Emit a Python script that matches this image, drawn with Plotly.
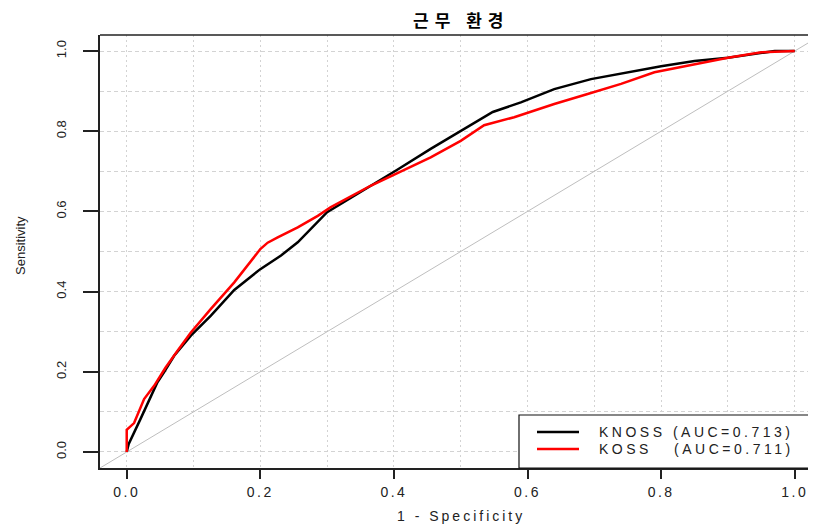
import plotly.graph_objects as go

# ---- data ----
knoss_fpr = [0.0, 0.003, 0.02, 0.036, 0.046, 0.056, 0.071, 0.096, 0.126, 0.161, 0.2, 0.231,
             0.256, 0.30, 0.335, 0.365, 0.405, 0.455, 0.5, 0.548, 0.59, 0.64, 0.695, 0.75,
             0.80, 0.85, 0.90, 0.97, 1.0]
knoss_tpr = [0.0, 0.02, 0.08, 0.14, 0.174, 0.199, 0.24, 0.29, 0.34, 0.404, 0.456, 0.49,
             0.523, 0.598, 0.633, 0.663, 0.704, 0.756, 0.80, 0.848, 0.872, 0.905, 0.93, 0.947,
             0.962, 0.975, 0.983, 1.0, 1.0]
koss_fpr = [0.0, 0.0, 0.011, 0.026, 0.041, 0.058, 0.075, 0.096, 0.126, 0.161, 0.2, 0.211,
            0.226, 0.256, 0.286, 0.305, 0.365, 0.405, 0.455, 0.5, 0.535, 0.58, 0.62, 0.64,
            0.69, 0.74, 0.79, 0.84, 0.90, 0.95, 0.99, 1.0]
koss_tpr = [0.0, 0.055, 0.072, 0.132, 0.165, 0.21, 0.25, 0.298, 0.357, 0.423, 0.506, 0.522,
            0.535, 0.560, 0.589, 0.61, 0.664, 0.696, 0.735, 0.776, 0.815, 0.835, 0.857, 0.868,
            0.893, 0.918, 0.947, 0.963, 0.983, 0.997, 1.0, 1.0]
series_names = ["KNOSS (AUC=0.713)", "KOSS\u00a0\u00a0\u00a0(AUC=0.711)"]
series_colors = ["#000000", "#FF0000"]
diag = [-0.04, 1.04]
tick_vals = [0.0, 0.2, 0.4, 0.6, 0.8, 1.0]
tick_text = ["0.0", "0.2", "0.4", "0.6", "0.8", "1.0"]
title_text = "근무 환경"
x_title = "1 - Specificity"
y_title = "Sensitivity"

# page body has an 8px margin: draw the figure 8px smaller and shift everything
OFF = 8
W, H = 816 - OFF, 528 - OFF
L, T, B = 100 - OFF, 35 - OFF, 60
pw, ph = W - L, H - T - B


def px_x(p):
    return (p - OFF - L) / pw


def px_y(p):
    return (H - B - (p - OFF)) / ph


def spaced(s, ls):
    return '<span style="letter-spacing:%spx">%s</span>' % (ls, s)


fig = go.Figure()
fig.add_trace(go.Scatter(x=diag, y=diag, mode="lines",
                         line=dict(color="#BEBEBE", width=1), hoverinfo="skip", showlegend=False))
fig.add_trace(go.Scatter(x=knoss_fpr, y=knoss_tpr, mode="lines", name=series_names[0],
                         line=dict(color=series_colors[0], width=2.5), showlegend=False))
fig.add_trace(go.Scatter(x=koss_fpr, y=koss_tpr, mode="lines", name=series_names[1],
                         line=dict(color=series_colors[1], width=2.5), showlegend=False))

axis_common = dict(
    showline=True, linecolor="#222222", linewidth=1.5, zeroline=False,
    ticks="outside", tickcolor="#222222", tickwidth=1.5,
    showgrid=True, gridcolor="#D3D3D3", gridwidth=1,
    tickvals=tick_vals,
    minor=dict(tickvals=[i / 10 for i in range(11)], showgrid=True, gridcolor="#D3D3D3",
               gridwidth=1, ticks=""),
)

fig.update_layout(
    width=W, height=H,
    margin=dict(l=L, r=0, t=T, b=B, autoexpand=False),
    plot_bgcolor="white", paper_bgcolor="white",
    font=dict(family="Liberation Sans, Arial, sans-serif", color="#111111"),
    xaxis=dict(range=[-0.04, -0.04 + (816 - 100) / 668.0], ticklen=9,
               ticktext=[spaced(t, 2.5) for t in tick_text],
               tickfont=dict(size=14, color="#222222"), ticklabelstandoff=1,
               griddash="2px,3px", **axis_common),
    yaxis=dict(range=[-0.04, 1.04], ticklen=15, tickangle=-90,
               ticktext=tick_text,
               tickfont=dict(size=13, color="#222222"), ticklabelstandoff=12,
               griddash="4px,3px", **axis_common),
)
fig.update_xaxes(minor_griddash="2px,3px")
fig.update_yaxes(minor_griddash="4px,3px")

# top frame line (right side of the frame lies beyond the canvas)
fig.add_shape(type="line", xref="paper", yref="paper", x0=0, x1=1.05, y0=1, y1=1,
              line=dict(color="#222222", width=1.5), layer="above")

# legend box
fig.add_shape(type="rect", xref="paper", yref="paper",
              x0=px_x(519), x1=1.05, y0=0, y1=px_y(415),
              fillcolor="white", line=dict(color="#111111", width=1.2), layer="above")
leg_y = [px_y(432), px_y(449)]
for i in range(2):
    fig.add_shape(type="line", xref="paper", yref="paper",
                  x0=px_x(537), x1=px_x(579), y0=leg_y[i], y1=leg_y[i],
                  line=dict(color=series_colors[i], width=2.5), layer="above")
    fig.add_annotation(xref="paper", yref="paper", x=px_x(597), y=leg_y[i],
                       xanchor="left", yanchor="middle", showarrow=False,
                       text=spaced(series_names[i], 3.5),
                       font=dict(size=14, color="#222222"))

# title and axis titles
fig.add_annotation(xref="paper", yref="paper", x=px_x(461), y=px_y(20),
                   xanchor="center", yanchor="middle", showarrow=False,
                   text="<b>" + spaced(title_text, 6) + "</b>",
                   font=dict(family="Noto Sans CJK KR", size=17, color="#000000"))
fig.add_annotation(xref="paper", yref="paper", x=px_x(461), y=px_y(516),
                   xanchor="center", yanchor="middle", showarrow=False,
                   text=spaced(x_title, 3), font=dict(size=14, color="#222222"))
fig.add_annotation(xref="paper", yref="paper", x=px_x(20), y=px_y(246),
                   xanchor="center", yanchor="middle", showarrow=False, textangle=-90,
                   text=y_title, font=dict(size=13, color="#222222"))

fig.write_html("out.html")
